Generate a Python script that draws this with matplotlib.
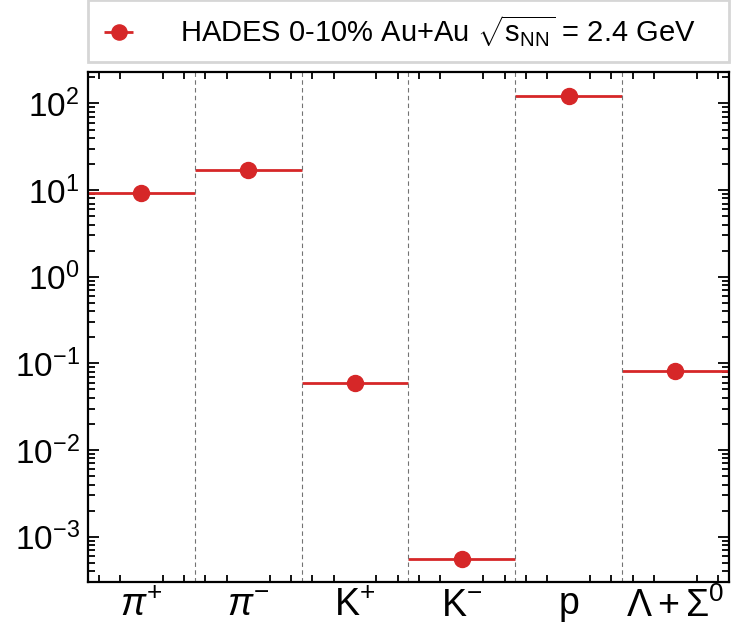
import numpy as np
import matplotlib
matplotlib.use("Agg")
import matplotlib.pyplot as plt
from matplotlib.ticker import LogLocator, FixedLocator

# --- fonts ---
plt.rcParams['font.family'] = ['Liberation Sans', 'DejaVu Sans']
plt.rcParams['mathtext.fontset'] = 'custom'
plt.rcParams['mathtext.rm'] = 'Liberation Sans'
plt.rcParams['mathtext.it'] = 'Liberation Sans:italic'
plt.rcParams['mathtext.sf'] = 'Liberation Sans'

# --- data ---
particles = [r'$\pi^{+}$', r'$\pi^{-}$', r'$\mathrm{K}^{+}$', r'$\mathrm{K}^{-}$',
             r'$\mathrm{p}$', r'$\Lambda + \Sigma^{0}$']
yields = [9.2, 17.0, 0.059, 5.5e-4, 121.0, 0.0815]
decades = [1e-3, 1e-2, 1e-1, 1e0, 1e1, 1e2]
label = r'HADES 0-10% Au+Au $\sqrt{\mathrm{s}_{\mathrm{NN}}}$ = 2.4 GeV'

red = '#d62728'
x = np.arange(len(particles))

fig = plt.figure(figsize=(7.31, 6.27), dpi=100)
ax = fig.add_axes([0.1204, 0.0718, 0.8766, 0.8132])

ax.errorbar(x, yields, xerr=0.5, fmt='o', color=red, ms=11.5,
            elinewidth=2, capsize=0, label=label)

for edge in x[:-1] + 0.5:
    ax.axvline(edge, color='0.45', ls=(0, (4, 3)), lw=0.8)

ax.set_yscale('log')
ax.set_ylim(3.0e-4, 230)
ax.set_xlim(-0.5, len(particles) - 0.5)

ax.set_xticks(x)
ax.set_xticklabels(particles, fontsize=27)
ax.xaxis.set_minor_locator(FixedLocator([c + d for c in x for d in (-0.4, -0.2, 0.2, 0.4)]))
ax.set_yticks(decades)
ax.yaxis.set_minor_locator(LogLocator(base=10, subs=np.arange(2, 10), numticks=20))

ax.tick_params(axis='x', which='major', length=0, pad=4)
ax.tick_params(axis='both', which='both', direction='in', top=True, right=True, width=1.3)
ax.tick_params(axis='y', which='major', length=8, labelsize=24, pad=6)
ax.tick_params(axis='y', which='minor', length=5, labelleft=False)
ax.tick_params(axis='x', which='minor', length=5)
for s in ax.spines.values():
    s.set_linewidth(1.6)

leg = ax.legend(loc='lower left', bbox_to_anchor=(0.0, 1.02, 1.0, 0.115), mode='expand',
                borderaxespad=0, fancybox=False, fontsize=21, handlelength=1.2,
                handletextpad=1.5, borderpad=0.45, markerscale=0.95)
leg.get_frame().set_edgecolor('#cccccc')
leg.get_frame().set_linewidth(2)

fig.savefig('out.png', dpi=100)
